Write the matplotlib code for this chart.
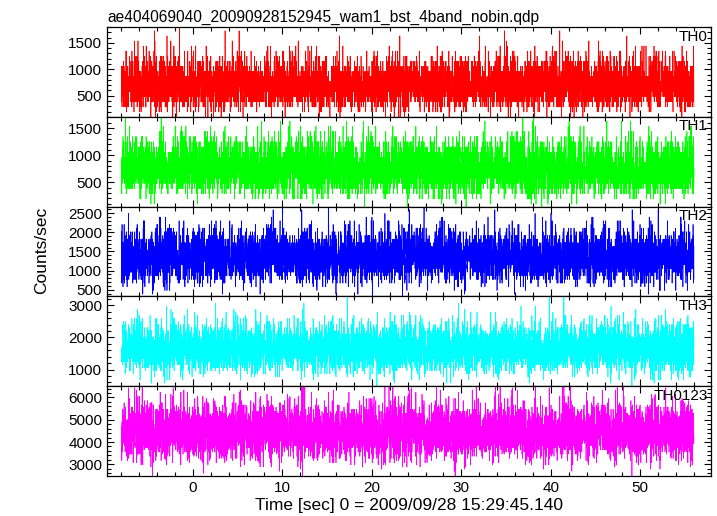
import numpy as np
import matplotlib as mpl
mpl.use("Agg")
import matplotlib.pyplot as plt
from matplotlib.ticker import MultipleLocator

mpl.rcParams.update({
    "font.family": ["Liberation Sans", "DejaVu Sans"],
    "font.size": 11,
})

TITLE = "ae404069040_20090928152945_wam1_bst_4band_nobin.qdp"
XLABEL = "Time [sec] 0 = 2009/09/28 15:29:45.140"

# values
bands = ["TH0", "TH1", "TH2", "TH3"]
colors = ["#ff0000", "#00ff00", "#0000ff", "#00ffff", "#ff00ff"]
mean_rate = [700, 760, 1350, 1650]          # counts/sec, approximate level per band
t_start, t_stop, dt = -8.0, 56.0, 1 / 96.0  # data span and bin width (s)
ylims = [(100, 1800), (50, 1710), (325, 2675), (480, 3280), (2475, 6505)]
major = [500, 500, 500, 1000, 1000]
minor = [100, 100, 100, 200, 200]
xlim = (-9.6, 57.9)

# individual bins cannot be read from the image; counts are simulated as
# Poisson noise around the read mean rates (fixed seed)
t = np.arange(t_start, t_stop, dt)
rng = np.random.default_rng(404069040)
rates = [rng.poisson(m * dt, t.size) / dt for m in mean_rate]
rates.append(np.sum(rates, axis=0))
labels = bands + ["TH0123"]

fig = plt.figure(figsize=(7.17, 5.16), dpi=100)
gs = fig.add_gridspec(5, 1, left=107 / 717, right=711 / 717,
                      top=1 - 27 / 516, bottom=1 - 476 / 516, hspace=0)
axes = [fig.add_subplot(gs[i]) for i in range(5)]
for i, ax in enumerate(axes):
    ax.plot(t, rates[i], color=colors[i], lw=0.5)
    ax.set_xlim(*xlim)
    ax.set_ylim(*ylims[i])
    ax.yaxis.set_major_locator(MultipleLocator(major[i]))
    ax.yaxis.set_minor_locator(MultipleLocator(minor[i]))
    ax.xaxis.set_major_locator(MultipleLocator(10))
    ax.xaxis.set_minor_locator(MultipleLocator(2))
    ax.tick_params(which="both", direction="in", top=True, right=True,
                   width=0.8, labelsize=11)
    ax.tick_params(which="major", length=5)
    ax.tick_params(which="minor", length=3)
    for s in ax.spines.values():
        s.set_linewidth(0.9)
    if i < 4:
        ax.tick_params(labelbottom=False)
    ax.text(0.995, 0.97, labels[i], transform=ax.transAxes,
            ha="right", va="top", fontsize=11)

axes[0].set_title(TITLE, loc="left", fontsize=11.2, pad=4)
axes[-1].set_xlabel(XLABEL, fontsize=12.5, labelpad=2)
fig.text(42 / 717, 1 - 250 / 516, "Counts/sec", rotation=90,
         ha="center", va="center", fontsize=12.5)

fig.savefig("out.png", dpi=100)
